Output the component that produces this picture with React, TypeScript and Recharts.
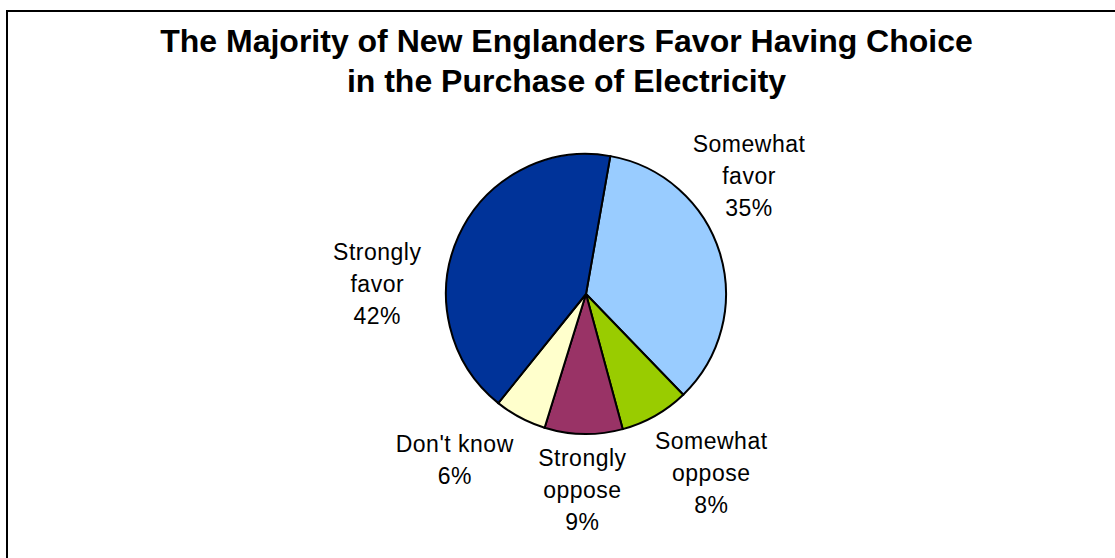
import { Cell, Pie, PieChart } from "recharts";

const categories = [
  "Somewhat favor",
  "Somewhat oppose",
  "Strongly oppose",
  "Don't know",
  "Strongly favor",
];
const shares = [35, 8, 9, 6, 42];
const sliceColors = ["#99ccff", "#99cc00", "#993366", "#ffffcc", "#003399"];

const titleLines = [
  "The Majority of New Englanders Favor Having Choice",
  "in the Purchase of Electricity",
];

// nudges for the outside labels, so they sit where the original placed them
const labelNudge: Record<string, [number, number]> = {
  "Somewhat favor": [-33, -58],
  "Somewhat oppose": [24, 1],
  "Strongly oppose": [0, -9],
  "Don't know": [-35, -15],
  "Strongly favor": [-22, 75],
};

const data = categories.map((name, i) => ({ name, value: shares[i] }));

const FONT = '"Liberation Sans", Arial, sans-serif';
const RAD = Math.PI / 180;
const LINE = 32;

type LabelProps = {
  cx: number;
  cy: number;
  midAngle: number;
  outerRadius: number;
  name: string;
  value: number;
};

function splitName(name: string): string[] {
  return name.length > 10 ? name.split(" ") : [name];
}

function SliceLabel({ cx, cy, midAngle, outerRadius, name, value }: LabelProps) {
  const r = outerRadius + 65;
  const [nx, ny] = labelNudge[name] ?? [0, 0];
  const x = cx + r * Math.cos(-midAngle * RAD) + nx;
  const y = cy + r * Math.sin(-midAngle * RAD) + ny;
  const lines = [...splitName(name), `${value}%`];
  const first = y - ((lines.length - 1) * LINE) / 2 + 8;
  return (
    <text
      x={x}
      y={first}
      textAnchor="middle"
      fill="#000"
      fontFamily={FONT}
      fontSize={23}
      letterSpacing={0.5}
    >
      {lines.map((t, i) => (
        <tspan key={t} x={x} y={first + i * LINE}>
          {t}
        </tspan>
      ))}
    </text>
  );
}

export default function App() {
  return (
    <div
      style={{
        position: "fixed",
        left: 0,
        top: 0,
        width: 1115,
        height: 558,
        background: "#fff",
        overflow: "hidden",
      }}
    >
      <div
        style={{
          position: "absolute",
          left: 6,
          top: 10,
          width: 1200,
          height: 700,
          borderLeft: "2px solid #000",
          borderTop: "2px solid #000",
        }}
      />
      <div
        style={{
          position: "absolute",
          left: 0,
          top: 21,
          width: 1133,
          textAlign: "center",
          fontFamily: FONT,
          fontWeight: "bold",
          fontSize: 32,
          lineHeight: "40px",
          color: "#000",
        }}
      >
        {titleLines.map((t) => (
          <div key={t}>{t}</div>
        ))}
      </div>
      <div style={{ position: "absolute", left: 0, top: 0 }}>
        <PieChart
          width={1115}
          height={558}
          margin={{ top: 0, right: 0, bottom: 0, left: 0 }}
        >
          <Pie
            data={data}
            dataKey="value"
            nameKey="name"
            cx={586}
            cy={294}
            outerRadius={140}
            startAngle={80}
            endAngle={-280}
            stroke="#000"
            strokeWidth={2}
            labelLine={false}
            label={(p: any) => <SliceLabel {...p} />}
            isAnimationActive={false}
          >
            {data.map((d, i) => (
              <Cell key={d.name} fill={sliceColors[i]} />
            ))}
          </Pie>
        </PieChart>
      </div>
    </div>
  );
}
